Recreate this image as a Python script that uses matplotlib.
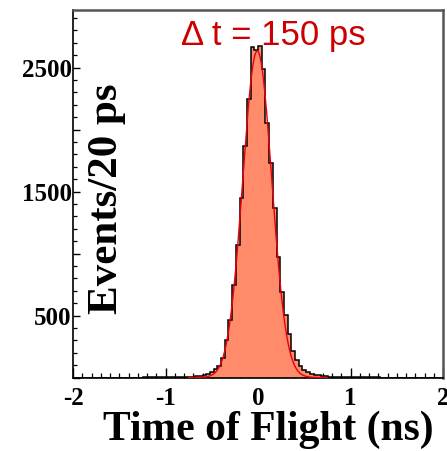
import numpy as np
import matplotlib
matplotlib.use("Agg")
import matplotlib.pyplot as plt
from matplotlib.ticker import FixedLocator, FixedFormatter, MultipleLocator

# ---- data ----
bin_edges_start = -2.0
bin_width = 0.04
counts_left = [0, 0, 0, 0, 0, 0, 0, 0, 0, 0,
               0, 0, 0, 0, 0, 0, 0, 0, 0, 1,
               1, 1, 1, 1, 1, 2, 2, 2, 3, 3,
               4, 5, 7, 10, 14, 21, 31, 44, 65, 95,
               159, 304, 467, 749, 1071, 1450, 1871, 2245, 2665, 2640]
counts_right = [2672, 2486, 2057, 1729, 1364, 971, 692, 501, 348, 217,
                140, 92, 62, 42, 31, 23, 17, 12, 9, 7,
                5, 4, 4, 3, 3, 2, 2, 2, 1, 1,
                1, 1, 1, 0, 0, 0, 0, 0, 0, 0,
                0, 0, 0, 0, 0, 0, 0, 0, 0, 0]
counts = np.array(counts_left + counts_right, dtype=float)

fit_amplitude = 2635.0
fit_mean = -0.008
fit_sigma = 0.157
fit_range = (-0.75, 0.75)

x_ticks = [-2, -1, 0, 1, 2]
x_tick_labels = ["-2", "-1", "0", "1", "2"]
y_ticks = [0, 500, 1000, 1500, 2000, 2500]
y_tick_labels = ["", "500", "", "1500", "", "2500"]
title_text = "\u0394 t = 150 ps"
xlabel_text = "Time of Flight (ns)"
ylabel_text = "Events/20 ps"

# ---- figure ----
fig = plt.figure(figsize=(4.47, 4.51), dpi=100)
ax = fig.add_axes([73/447, 1-377.5/451, 370/447, 367.5/451])

edges = bin_edges_start + bin_width*np.arange(len(counts)+1)
ax.stairs(counts, edges, fill=True, color="#ff8b6b", zorder=2)
ax.stairs(counts, edges, color="black", linewidth=1.1, zorder=3)

xf = np.linspace(fit_range[0], fit_range[1], 400)
yf = fit_amplitude*np.exp(-0.5*((xf-fit_mean)/fit_sigma)**2)
ax.plot(xf, yf, color="#e8000b", linewidth=1.0, zorder=4)

ax.set_xlim(-2, 2)
ax.set_ylim(0, 2965)

serif = ["Liberation Serif", "DejaVu Serif"]
ax.xaxis.set_major_locator(FixedLocator(x_ticks))
ax.xaxis.set_major_formatter(FixedFormatter(x_tick_labels))
ax.xaxis.set_minor_locator(MultipleLocator(0.1))
ax.yaxis.set_major_locator(FixedLocator(y_ticks))
ax.yaxis.set_major_formatter(FixedFormatter(y_tick_labels))
ax.yaxis.set_minor_locator(MultipleLocator(100))

ax.tick_params(axis="both", which="both", direction="in", color="black")
ax.tick_params(axis="x", which="major", length=7, width=1.0, pad=7)
ax.tick_params(axis="x", which="minor", length=3.5, width=0.9)
ax.tick_params(axis="y", which="major", length=5, width=1.0, pad=1)
ax.tick_params(axis="y", which="minor", length=3, width=0.9)
for lab in ax.get_xticklabels() + ax.get_yticklabels():
    lab.set_family(serif)
    lab.set_fontweight("bold")
    lab.set_fontsize(18)

for s in ["left", "bottom"]:
    ax.spines[s].set_color("black")
    ax.spines[s].set_linewidth(1.2)
for s in ["top", "right"]:
    ax.spines[s].set_color("#555555")
    ax.spines[s].set_linewidth(1.8)

ax.text(0.542, 0.905, title_text, transform=ax.transAxes, ha="center",
        va="baseline", color="#cc0000", fontsize=25,
        family=["Liberation Sans", "DejaVu Sans"])
ax.text(0.092, 0.487, ylabel_text, transform=ax.transAxes, ha="center",
        va="center", rotation=90, fontsize=31, fontweight="bold", family=serif)
fig.text(268/447, 1-430/451, xlabel_text, ha="center", va="center",
         fontsize=30, fontweight="bold", family=serif)

fig.savefig("out.png", dpi=100)
